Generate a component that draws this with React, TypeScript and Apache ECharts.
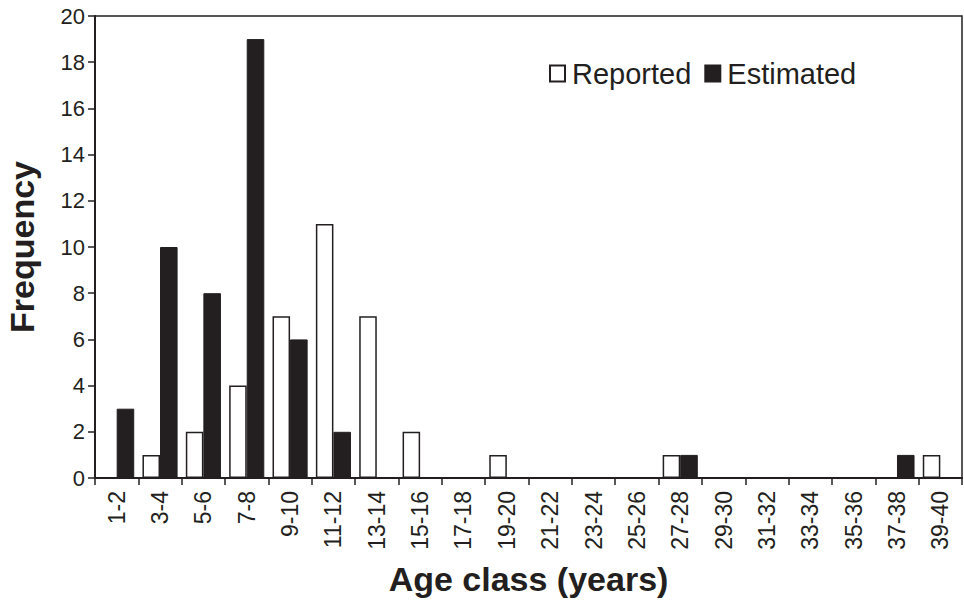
import React, { useEffect, useRef } from "react";
import * as echarts from "echarts";

const categories = [
  "1-2", "3-4", "5-6", "7-8", "9-10", "11-12", "13-14", "15-16", "17-18", "19-20",
  "21-22", "23-24", "25-26", "27-28", "29-30", "31-32", "33-34", "35-36", "37-38", "39-40",
];
const reported = [0, 1, 2, 4, 7, 11, 7, 2, 0, 1, 0, 0, 0, 1, 0, 0, 0, 0, 0, 1];
const estimated = [3, 10, 8, 19, 6, 2, 0, 0, 0, 0, 0, 0, 0, 1, 0, 0, 0, 0, 1, 0];

const INK = "#231f20";
const FONT = "Arial, 'Liberation Sans', Helvetica, sans-serif";

export default function App() {
  const ref = useRef<HTMLDivElement>(null);
  useEffect(() => {
    if (!ref.current) return;
    const chart = echarts.init(ref.current, undefined, { renderer: "svg" });
    chart.setOption({
      animation: false,
      backgroundColor: "#ffffff",
      grid: {
        left: 95,
        right: 2,
        top: 16,
        bottom: 122,
        show: true,
        borderColor: INK,
        borderWidth: 1.5,
        backgroundColor: "transparent",
        containLabel: false,
        outerBoundsMode: "none",
      },
      legend: {
        left: 544,
        top: 54,
        icon: "rect",
        itemWidth: 15,
        itemHeight: 16,
        itemGap: 13,
        textStyle: { fontFamily: FONT, fontSize: 29, color: INK, padding: [0, 0, 0, 2] },
        data: ["Reported", "Estimated"],
      },
      xAxis: {
        type: "category",
        data: categories,
        name: "Age class (years)",
        nameLocation: "middle",
        nameGap: 84,
        nameTextStyle: { fontFamily: FONT, fontSize: 34, fontWeight: "bold", color: INK },
        axisLine: { lineStyle: { color: INK, width: 2 } },
        axisTick: { show: true, alignWithLabel: false, length: 7, lineStyle: { color: INK, width: 1.5 } },
        axisLabel: {
          rotate: 90,
          interval: 0,
          margin: 13,
          fontFamily: FONT,
          fontSize: 23,
          color: INK,
        },
        splitLine: { show: false },
      },
      yAxis: {
        type: "value",
        min: 0,
        max: 20,
        interval: 2,
        name: "Frequency",
        nameLocation: "middle",
        nameGap: 56,
        nameTextStyle: { fontFamily: FONT, fontSize: 34, fontWeight: "bold", color: INK },
        axisLine: { show: true, lineStyle: { color: INK, width: 2 } },
        axisTick: { show: true, length: 7, lineStyle: { color: INK, width: 1.5 } },
        axisLabel: { fontFamily: FONT, fontSize: 22, color: INK, margin: 10 },
        splitLine: { show: false },
      },
      series: [
        {
          name: "Reported",
          type: "bar",
          data: reported,
          barGap: "0%",
          barCategoryGap: "19%",
          itemStyle: { color: "#ffffff", borderColor: INK, borderWidth: 1.5 },
        },
        {
          name: "Estimated",
          type: "bar",
          data: estimated,
          barGap: "0%",
          barCategoryGap: "19%",
          itemStyle: { color: INK, borderColor: INK, borderWidth: 1 },
        },
      ],
    });
    return () => chart.dispose();
  }, []);
  return (
    <div
      ref={ref}
      style={{ position: "fixed", left: 0, top: 0, width: 964, height: 600, background: "#fff" }}
    />
  );
}
